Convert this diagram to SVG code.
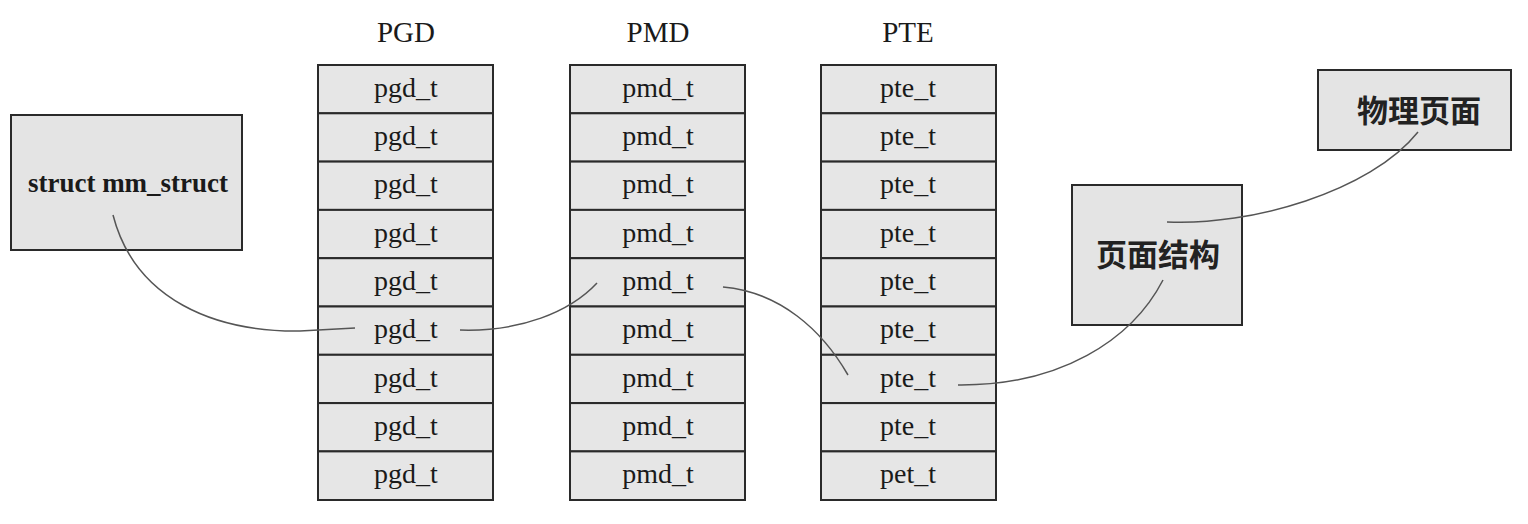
<svg xmlns="http://www.w3.org/2000/svg" width="1528" height="524" viewBox="0 0 1528 524">
<style>
.box{fill:#e4e4e4;stroke:#2a2a2a;stroke-width:2}
.cell{fill:#e6e6e6;stroke:#2a2a2a;stroke-width:2}
.t{font-family:"Liberation Serif","DejaVu Serif",serif;font-size:28px;fill:#1a1a1a;text-anchor:middle}
.h{font-family:"Liberation Serif","DejaVu Serif",serif;font-size:29px;fill:#1a1a1a;text-anchor:middle}
.b{font-family:"Liberation Serif","DejaVu Serif",serif;font-size:27px;font-weight:bold;fill:#1a1a1a;text-anchor:middle}
.cjk{font-family:"Noto Sans CJK SC","Noto Sans",sans-serif;font-size:31px;font-weight:bold;fill:#222;text-anchor:middle}
.c{fill:none;stroke:#555;stroke-width:1.5}
</style>
<rect width="1528" height="524" fill="#ffffff"/>
<g id="mm_struct">
<rect class="box" x="11" y="115" width="231" height="135"/>
<text class="b" x="128" y="192">struct mm_struct</text>
</g>
<g id="pgd">
<text class="h" x="406" y="42">PGD</text>
<rect class="cell" x="318" y="65" width="175" height="48.3"/>
<rect class="cell" x="318" y="113.3" width="175" height="48.3"/>
<rect class="cell" x="318" y="161.6" width="175" height="48.3"/>
<rect class="cell" x="318" y="209.9" width="175" height="48.3"/>
<rect class="cell" x="318" y="258.2" width="175" height="48.3"/>
<rect class="cell" x="318" y="306.5" width="175" height="48.3"/>
<rect class="cell" x="318" y="354.8" width="175" height="48.3"/>
<rect class="cell" x="318" y="403.1" width="175" height="48.3"/>
<rect class="cell" x="318" y="451.4" width="175" height="48.6"/>
<text class="t" x="406" y="97">pgd_t</text>
<text class="t" x="406" y="145">pgd_t</text>
<text class="t" x="406" y="193">pgd_t</text>
<text class="t" x="406" y="242">pgd_t</text>
<text class="t" x="406" y="290">pgd_t</text>
<text class="t" x="406" y="338">pgd_t</text>
<text class="t" x="406" y="387">pgd_t</text>
<text class="t" x="406" y="435">pgd_t</text>
<text class="t" x="406" y="483">pgd_t</text>
</g>
<g id="pmd">
<text class="h" x="658" y="42">PMD</text>
<rect class="cell" x="570" y="65" width="175" height="48.3"/>
<rect class="cell" x="570" y="113.3" width="175" height="48.3"/>
<rect class="cell" x="570" y="161.6" width="175" height="48.3"/>
<rect class="cell" x="570" y="209.9" width="175" height="48.3"/>
<rect class="cell" x="570" y="258.2" width="175" height="48.3"/>
<rect class="cell" x="570" y="306.5" width="175" height="48.3"/>
<rect class="cell" x="570" y="354.8" width="175" height="48.3"/>
<rect class="cell" x="570" y="403.1" width="175" height="48.3"/>
<rect class="cell" x="570" y="451.4" width="175" height="48.6"/>
<text class="t" x="658" y="97">pmd_t</text>
<text class="t" x="658" y="145">pmd_t</text>
<text class="t" x="658" y="193">pmd_t</text>
<text class="t" x="658" y="242">pmd_t</text>
<text class="t" x="658" y="290">pmd_t</text>
<text class="t" x="658" y="338">pmd_t</text>
<text class="t" x="658" y="387">pmd_t</text>
<text class="t" x="658" y="435">pmd_t</text>
<text class="t" x="658" y="483">pmd_t</text>
</g>
<g id="pte">
<text class="h" x="908" y="42">PTE</text>
<rect class="cell" x="821" y="65" width="175" height="48.3"/>
<rect class="cell" x="821" y="113.3" width="175" height="48.3"/>
<rect class="cell" x="821" y="161.6" width="175" height="48.3"/>
<rect class="cell" x="821" y="209.9" width="175" height="48.3"/>
<rect class="cell" x="821" y="258.2" width="175" height="48.3"/>
<rect class="cell" x="821" y="306.5" width="175" height="48.3"/>
<rect class="cell" x="821" y="354.8" width="175" height="48.3"/>
<rect class="cell" x="821" y="403.1" width="175" height="48.3"/>
<rect class="cell" x="821" y="451.4" width="175" height="48.6"/>
<text class="t" x="908" y="97">pte_t</text>
<text class="t" x="908" y="145">pte_t</text>
<text class="t" x="908" y="193">pte_t</text>
<text class="t" x="908" y="242">pte_t</text>
<text class="t" x="908" y="290">pte_t</text>
<text class="t" x="908" y="338">pte_t</text>
<text class="t" x="908" y="387">pte_t</text>
<text class="t" x="908" y="435">pte_t</text>
<text class="t" x="908" y="483">pet_t</text>
</g>
<g id="page_struct">
<rect class="box" x="1072" y="185" width="170" height="140"/>
<text class="cjk" x="1158" y="266">页面结构</text>
</g>
<g id="phys_page">
<rect class="box" x="1318" y="70" width="193" height="80"/>
<text class="cjk" x="1419" y="122">物理页面</text>
</g>
<g id="connectors">
<path class="c" d="M113,215 C135,300 215,332 300,331 L355,328"/>
<path class="c" d="M460,330 C520,332 570,312 597,283"/>
<path class="c" d="M723,287 C780,292 822,330 848,375"/>
<path class="c" d="M958,385 C1060,386 1132,340 1163,280"/>
<path class="c" d="M1167,222 C1250,226 1370,192 1418,132"/>
</g>
</svg>
